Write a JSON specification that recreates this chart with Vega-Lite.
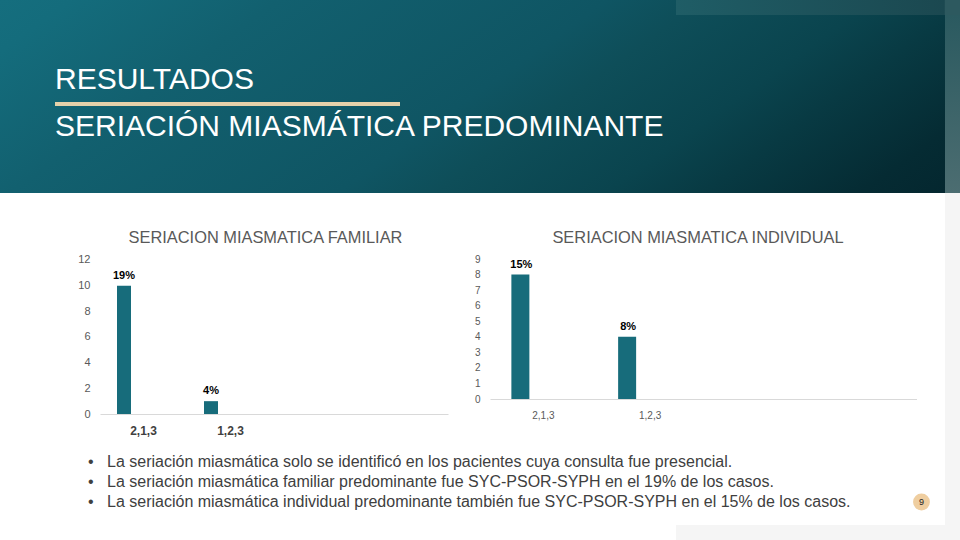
{
  "$schema": "https://vega.github.io/schema/vega-lite/v6.json",
  "background": "white",
  "padding": 0,
  "spacing": 0,
  "config": {
    "font": "Liberation Sans",
    "view": {"stroke": null},
    "concat": {"spacing": 0},
    "axis": {"grid": false, "ticks": false, "tickSize": 0, "labelFont": "Liberation Sans"},
    "title": {"font": "Liberation Sans"}
  },
  "vconcat": [
    {
      "spacing": 0,
      "hconcat": [
        {"width": 676, "height": 15, "data": {"values": []}, "mark": "point",
         "view": {"fill": {"gradient": "linear", "x1": 0, "y1": 0, "x2": 1.7955, "y2": 0.0558,
           "stops": [{"offset":0,"color":"#156e7e"},{"offset":0.06,"color":"#146c7c"},{"offset":0.23,"color":"#12606f"},{"offset":0.5,"color":"#0f5563"},{"offset":0.58,"color":"#0e4e59"},{"offset":0.72,"color":"#0a444e"},{"offset":0.8,"color":"#083a43"},{"offset":0.93,"color":"#052b33"},{"offset":1,"color":"#04272f"}]}}},
        {"width": 284, "height": 15, "data": {"values": []}, "mark": "point",
         "view": {"fill": {"gradient": "linear", "x1": 0, "y1": 0, "x2": 1, "y2": 0,
           "stops": [{"offset":0,"color":"#1f5d66"},{"offset":0.945,"color":"#1b4850"},{"offset":0.947,"color":"#2d595f"},{"offset":1,"color":"#2d595f"}]}}}
      ]
    },
    {
      "spacing": 0,
      "hconcat": [
        {"width": 945, "height": 87, "data": {"values": []}, "mark": "point",
         "title": {"text": "RESULTADOS", "orient": "bottom", "anchor": "start", "frame": "group", "offset": -37.5, "dx": 55, "fontSize": 30, "fontWeight": "normal", "color": "#ffffff"},
         "view": {"fill": {"gradient": "linear", "x1": -0.021859, "y1": -0.002817, "x2": 1.242853, "y2": 0.16019,
           "stops": [{"offset":0,"color":"#156e7e"},{"offset":0.06,"color":"#146c7c"},{"offset":0.23,"color":"#12606f"},{"offset":0.5,"color":"#0f5563"},{"offset":0.58,"color":"#0e4e59"},{"offset":0.72,"color":"#0a444e"},{"offset":0.8,"color":"#083a43"},{"offset":0.93,"color":"#052b33"},{"offset":1,"color":"#04272f"}]}}},
        {"width": 15, "height": 87, "data": {"values": []}, "mark": "point",
         "view": {"fill": {"gradient": "linear", "x1": 0, "y1": 0, "x2": 0, "y2": 2.04598,
           "stops": [{"offset":0,"color":"#2b5a60"},{"offset":1,"color":"#4c6d71"}]}}}
      ]
    },
    {
      "spacing": 0,
      "hconcat": [
        {"width": 55, "height": 4, "data": {"values": []}, "mark": "point",
         "view": {"fill": {"gradient": "linear", "x1": -2.5698, "y1": -0.26166, "x2": 19.2952, "y2": 1.96464,
           "stops": [{"offset":0,"color":"#156e7e"},{"offset":0.06,"color":"#146c7c"},{"offset":0.23,"color":"#12606f"},{"offset":0.5,"color":"#0f5563"},{"offset":0.58,"color":"#0e4e59"},{"offset":0.72,"color":"#0a444e"},{"offset":0.8,"color":"#083a43"},{"offset":0.93,"color":"#052b33"},{"offset":1,"color":"#04272f"}]}}},
        {"width": 345, "height": 4, "data": {"values": []}, "mark": "point", "view": {"fill": "#e5d1aa"}},
        {"width": 545, "height": 4, "data": {"values": []}, "mark": "point",
         "view": {"fill": {"gradient": "linear", "x1": -0.99586, "y1": -0.010233, "x2": 1.233264, "y2": 0.012672,
           "stops": [{"offset":0,"color":"#156e7e"},{"offset":0.06,"color":"#146c7c"},{"offset":0.23,"color":"#12606f"},{"offset":0.5,"color":"#0f5563"},{"offset":0.58,"color":"#0e4e59"},{"offset":0.72,"color":"#0a444e"},{"offset":0.8,"color":"#083a43"},{"offset":0.93,"color":"#052b33"},{"offset":1,"color":"#04272f"}]}}},
        {"width": 15, "height": 4, "data": {"values": []}, "mark": "point",
         "view": {"fill": {"gradient": "linear", "x1": 0, "y1": -21.75, "x2": 0, "y2": 22.75,
           "stops": [{"offset":0,"color":"#2b5a60"},{"offset":1,"color":"#4c6d71"}]}}}
      ]
    },
    {
      "spacing": 0,
      "hconcat": [
        {"width": 945, "height": 87, "data": {"values": []}, "mark": "point",
         "title": {"text": "SERIACIÓN MIASMÁTICA PREDOMINANTE", "orient": "bottom", "anchor": "start", "frame": "group", "offset": -81, "dx": 55, "fontSize": 30, "fontWeight": "normal", "color": "#ffffff"},
         "view": {"fill": {"gradient": "linear", "x1": -0.154472, "y1": -0.01991, "x2": 1.11024, "y2": 0.143097,
           "stops": [{"offset":0,"color":"#156e7e"},{"offset":0.06,"color":"#146c7c"},{"offset":0.23,"color":"#12606f"},{"offset":0.5,"color":"#0f5563"},{"offset":0.58,"color":"#0e4e59"},{"offset":0.72,"color":"#0a444e"},{"offset":0.8,"color":"#083a43"},{"offset":0.93,"color":"#052b33"},{"offset":1,"color":"#04272f"}]}}},
        {"width": 15, "height": 87, "data": {"values": []}, "mark": "point",
         "view": {"fill": {"gradient": "linear", "x1": 0, "y1": -1.04598, "x2": 0, "y2": 1.0,
           "stops": [{"offset":0,"color":"#2b5a60"},{"offset":1,"color":"#4c6d71"}]}}}
      ]
    },
    {
      "spacing": 0,
      "hconcat": [
        {"width": 70, "height": 252, "data": {"values": []}, "mark": "point", "view": {"fill": "#ffffff"}},
        {
          "width": 348, "height": 221,
          "title": {"text": "SERIACION MIASMATICA FAMILIAR", "orient": "bottom", "anchor": "middle", "frame": "group", "offset": -215, "dx": -8.5, "fontSize": 16.4, "fontWeight": "normal", "color": "#595959"},
          "data": {"values": [
            {"seriacion": "2,1,3", "casos": 10, "porcentaje": "19%"},
            {"seriacion": "1,2,3", "casos": 1, "porcentaje": "4%"}
          ]},
          "encoding": {
            "x": {"field": "seriacion", "type": "nominal", "sort": null, "title": null,
              "scale": {"domain": ["2,1,3", "1,2,3", "c", "d"], "paddingInner": 0, "paddingOuter": 0},
              "axis": {"values": ["2,1,3", "1,2,3"], "labelAngle": 0, "labelFontSize": 12, "labelFontWeight": "bold", "labelColor": "#404040", "labelPadding": 11, "domainColor": "#d9d9d9", "domainWidth": 1, "ticks": false, "minExtent": 31, "maxExtent": 31}},
            "y": {"field": "casos", "type": "quantitative", "title": null,
              "scale": {"domain": [0, 17.22], "nice": false},
              "axis": {"values": [0, 2, 4, 6, 8, 10, 12], "domain": false, "ticks": false, "grid": false, "labelFontSize": 11, "labelColor": "#595959", "labelPadding": 10, "minExtent": 30, "maxExtent": 30}}
          },
          "layer": [
            {"mark": {"type": "bar", "width": 14, "xOffset": -19.5, "color": "#176c7b"}},
            {"mark": {"type": "text", "xOffset": -19.5, "dy": -10, "baseline": "middle", "fontSize": 11, "fontWeight": "bold", "color": "#000000"},
             "encoding": {"text": {"field": "porcentaje"}}}
          ]
        },
        {
          "width": 427, "height": 206,
          "title": {"text": "SERIACION MIASMATICA INDIVIDUAL", "orient": "bottom", "anchor": "middle", "frame": "group", "offset": -215, "dx": -5.5, "fontSize": 16.4, "fontWeight": "normal", "color": "#595959"},
          "data": {"values": [
            {"seriacion": "2,1,3", "casos": 8, "porcentaje": "15%"},
            {"seriacion": "1,2,3", "casos": 4, "porcentaje": "8%"}
          ]},
          "encoding": {
            "x": {"field": "seriacion", "type": "nominal", "sort": null, "title": null,
              "scale": {"domain": ["2,1,3", "1,2,3", "c", "d"], "paddingInner": 0, "paddingOuter": 0},
              "axis": {"values": ["2,1,3", "1,2,3"], "labelAngle": 0, "labelFontSize": 10, "labelColor": "#595959", "labelPadding": 11, "domainColor": "#d9d9d9", "domainWidth": 1, "ticks": false, "minExtent": 46, "maxExtent": 46}},
            "y": {"field": "casos", "type": "quantitative", "title": null,
              "scale": {"domain": [0, 13.25], "nice": false},
              "axis": {"values": [0, 1, 2, 3, 4, 5, 6, 7, 8, 9], "domain": false, "ticks": false, "grid": false, "labelFontSize": 10, "labelColor": "#595959", "labelPadding": 10, "minExtent": 42, "maxExtent": 42}}
          },
          "layer": [
            {"mark": {"type": "bar", "width": 18, "xOffset": -23, "color": "#176c7b"}},
            {"mark": {"type": "text", "xOffset": -22, "dy": -10, "baseline": "middle", "fontSize": 11, "fontWeight": "bold", "color": "#000000"},
             "encoding": {"text": {"field": "porcentaje"}}}
          ]
        },
        {"width": 28, "height": 252, "data": {"values": []}, "mark": "point", "view": {"fill": "#ffffff"}},
        {"width": 15, "height": 252, "data": {"values": []}, "mark": "point", "view": {"fill": "#f5f5f5"}}
      ]
    },
    {
      "spacing": 0,
      "hconcat": [
        {
          "width": 898, "height": 80,
          "data": {"values": [
            {"n": 1, "texto": "La seriación miasmática solo se identificó en los pacientes cuya consulta fue presencial."},
            {"n": 2, "texto": "La seriación miasmática familiar predominante fue SYC-PSOR-SYPH en el 19% de los casos."},
            {"n": 3, "texto": "La seriación miasmática individual predominante también fue SYC-PSOR-SYPH en el 15% de los casos."}
          ]},
          "encoding": {
            "y": {"field": "n", "type": "ordinal", "scale": {"type": "point", "padding": 1.105, "align": 0.4286}, "axis": null}
          },
          "layer": [
            {"mark": {"type": "text", "text": "•", "align": "left", "dx": -361, "baseline": "middle", "fontSize": 16, "color": "#404040"}},
            {"mark": {"type": "text", "align": "left", "dx": -342, "baseline": "middle", "fontSize": 16, "color": "#404040"},
             "encoding": {"text": {"field": "texto"}}}
          ]
        },
        {
          "width": 47, "height": 80,
          "data": {"values": [{"pagina": "9"}]},
          "layer": [
            {"mark": {"type": "circle", "size": 283, "color": "#efcea0", "opacity": 1, "yOffset": 17}, "encoding": {}},
            {"mark": {"type": "text", "yOffset": 17, "baseline": "middle", "fontSize": 9, "color": "#222222"},
             "encoding": {"text": {"field": "pagina"}}}
          ]
        },
        {"width": 15, "height": 80, "data": {"values": []}, "mark": "point", "view": {"fill": "#f5f5f5"}}
      ]
    },
    {
      "spacing": 0,
      "hconcat": [
        {"width": 676, "height": 15, "data": {"values": []}, "mark": "point", "view": {"fill": "#ffffff"}},
        {"width": 284, "height": 15, "data": {"values": []}, "mark": "point", "view": {"fill": "#f5f5f5"}}
      ]
    }
  ]
}
